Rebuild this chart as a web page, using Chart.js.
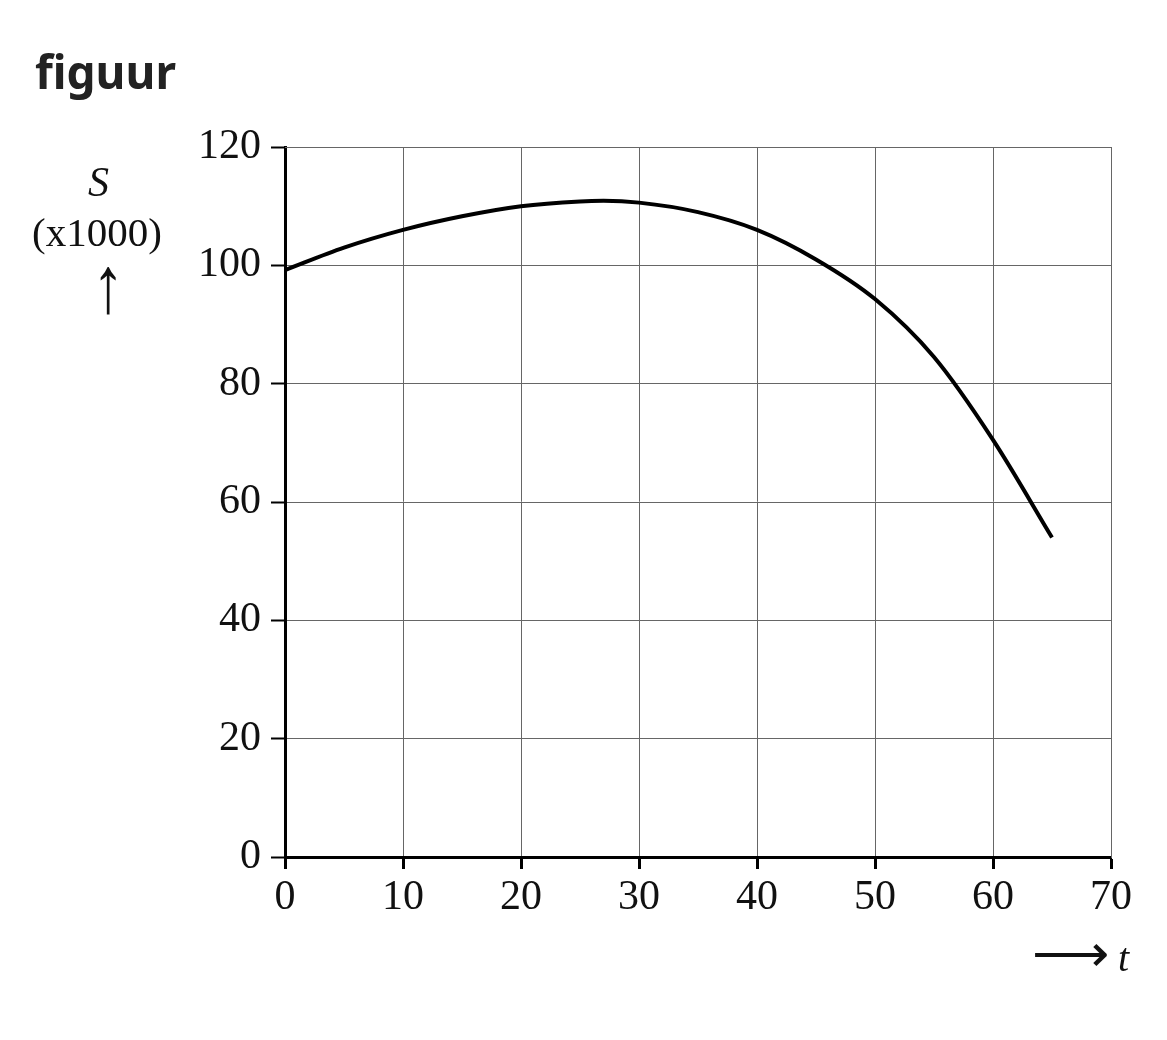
<!DOCTYPE html>
<html><head><meta charset="utf-8">
<script src="https://cdn.jsdelivr.net/npm/chart.js@4/dist/chart.umd.min.js"></script>
<style>
html,body{margin:0;padding:0;background:#fff;}
#wrap{position:relative;width:1167px;height:1040px;}
.t{position:absolute;font-family:"Liberation Serif",serif;color:#111;}
</style></head><body>
<div id="wrap">
<canvas id="c" width="1167" height="1040"></canvas>
<div style="position:absolute;left:35px;top:40px;font:bold 46px 'Noto Sans',sans-serif;color:#222;">figuur</div>
<div class="t" style="left:88px;top:158px;font-size:42px;font-style:italic;">S</div>
<div class="t" style="left:32px;top:208px;font-size:41px;">(x1000)</div>
<div class="t" style="left:88px;top:240px;font-size:80px;transform:scaleX(0.8);">↑</div>
<div class="t" style="left:1032px;top:922px;font-size:54px;">⟶</div>
<div class="t" style="left:1118px;top:934px;font-size:40px;font-style:italic;">t</div>
</div>
<script>
const tValues=[0,5,10,15,20,25,27,30,35,40,45,50,55,60,65];
const sValues=[99.2,103,106,108.3,110,110.8,110.9,110.6,109,106,101,94.3,84.5,70.5,54];
const xTicks=[0,10,20,30,40,50,60,70];
const yTicks=[0,20,40,60,80,100,120];
new Chart(document.getElementById('c'),{
type:'line',
data:{datasets:[{data:tValues.map((t,i)=>({x:t,y:sValues[i]})),borderColor:'#000',borderWidth:4,pointRadius:0,cubicInterpolationMode:'monotone',fill:false}]},
options:{responsive:false,animation:false,
layout:{padding:{left:0,top:139,right:48,bottom:0}},
plugins:{legend:{display:false},tooltip:{enabled:false}},
scales:{
x:{type:'linear',min:0,max:70,afterFit:s=>{s.height=183;},
afterBuildTicks:s=>{s.ticks=xTicks.map(v=>({value:v}));},
grid:{color:'#666',lineWidth:1,tickLength:12,tickColor:'#000',tickWidth:3},
border:{color:'#000',width:3},
ticks:{color:'#111',font:{family:'Liberation Serif',size:42},padding:4,maxRotation:0}},
y:{min:0,max:120,afterFit:s=>{s.width=285;},
afterBuildTicks:s=>{s.ticks=yTicks.map(v=>({value:v}));},
grid:{color:'#666',lineWidth:1,tickLength:14,tickColor:'#000',tickWidth:2},
border:{color:'#000',width:3},
ticks:{color:'#111',font:{family:'Liberation Serif',size:42},padding:10}},
x2:{type:'linear',position:'top',min:0,max:70,display:true,grid:{display:false},ticks:{display:false},border:{color:'#666',width:1}},
y2:{position:'right',min:0,max:120,grid:{display:false},ticks:{display:false},border:{color:'#666',width:1}}
}}});
</script>
</body></html>
